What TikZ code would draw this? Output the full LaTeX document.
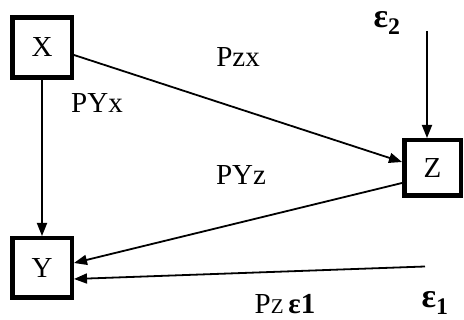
\documentclass[tikz,border=0pt]{standalone}
\usepackage{fontspec}
\setmainfont{Liberation Serif}
\usetikzlibrary{arrows.meta}
\begin{document}
\begin{tikzpicture}[x=1pt,y=-1pt,
 box/.style={draw,line width=4.5pt,minimum width=59.5pt,minimum height=60pt,inner sep=0pt,font=\fontsize{29}{29}\selectfont},
 lbl/.style={inner sep=0pt,font=\fontsize{29}{29}\selectfont},
 eps/.style={inner sep=0pt,font=\fontsize{34}{34}\selectfont\bfseries},
 conn/.style={line width=1.8pt,-{Triangle[length=13pt,width=10pt]}}]
\useasboundingbox (0,0) rectangle (464,320);
\node[box] (X) at (42,47.5) {X};
\node[box,minimum height=59.5pt] (Y) at (42,268) {Y};
\node[box,minimum width=56.5pt,minimum height=55.5pt] (Z) at (432.5,168) {Z};
\coordinate (e1s) at (425,266.5);
\coordinate (e2s) at (427,31);
\draw[conn] (X.south) -- (Y.north);
\draw[conn] ([yshift=-7.5pt]X.east) -- ([yshift=6pt]Z.west);
\draw[conn] ([yshift=-15pt]Z.west) -- ([yshift=5pt]Y.east);
\draw[conn] (e1s) -- ([yshift=-11pt]Y.east);
\draw[conn] (e2s) -- (e2s |- Z.north);
\node[lbl] (lzx) at (238,57) {Pzx};
\node[lbl] (lyx) at (97,103) {PYx};
\node[lbl] (lyz) at (241,175) {PYz};
\node[lbl] (lze) at (285,304) {P{\fontsize{21}{21}\selectfont Z}\,{\bfseries ε1}};
\node[eps] (e1) at (435,303) {ε\textsubscript{1}};
\node[eps] (e2) at (387,23) {ε\textsubscript{2}};
\end{tikzpicture}
\end{document}
